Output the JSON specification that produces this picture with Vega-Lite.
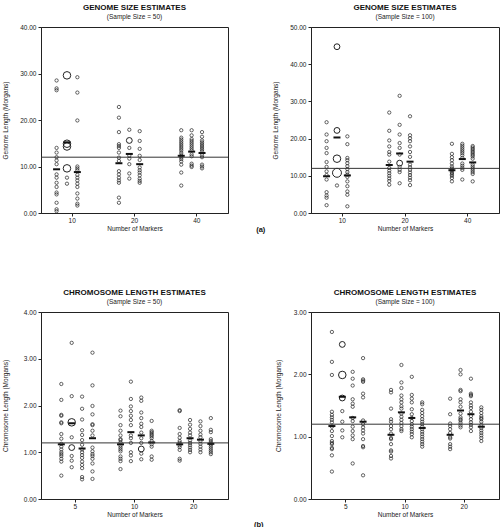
{
"$schema": "https://vega.github.io/schema/vega-lite/v6.json",
"background": "white",
"padding": {"left": 1, "top": 3, "right": 0, "bottom": 0},
"datasets": {
"g50": [
{"mk":10,"meth":1,"length":28.5},{"mk":10,"meth":1,"length":26.8},{"mk":10,"meth":1,"length":26.4},{"mk":10,"meth":1,"length":14.0},{"mk":10,"meth":1,"length":13.0},{"mk":10,"meth":1,"length":12.0},{"mk":10,"meth":1,"length":11.3},{"mk":10,"meth":1,"length":10.5},{"mk":10,"meth":1,"length":8.3},{"mk":10,"meth":1,"length":7.6},{"mk":10,"meth":1,"length":6.5},{"mk":10,"meth":1,"length":5.6},{"mk":10,"meth":1,"length":4.4},{"mk":10,"meth":1,"length":4.0},{"mk":10,"meth":1,"length":2.2},{"mk":10,"meth":1,"length":0.8},{"mk":10,"meth":1,"length":0.4},
{"mk":10,"meth":2,"length":7.6},{"mk":10,"meth":2,"length":6.3},
{"mk":10,"meth":3,"length":29.2},{"mk":10,"meth":3,"length":25.9},{"mk":10,"meth":3,"length":19.9},{"mk":10,"meth":3,"length":10.0},{"mk":10,"meth":3,"length":9.6},{"mk":10,"meth":3,"length":9.2},{"mk":10,"meth":3,"length":8.2},{"mk":10,"meth":3,"length":7.6},{"mk":10,"meth":3,"length":7.0},{"mk":10,"meth":3,"length":6.3},{"mk":10,"meth":3,"length":5.6},{"mk":10,"meth":3,"length":4.2},{"mk":10,"meth":3,"length":3.1},{"mk":10,"meth":3,"length":2.0},{"mk":10,"meth":3,"length":1.6},
{"mk":20,"meth":1,"length":22.8},{"mk":20,"meth":1,"length":20.5},{"mk":20,"meth":1,"length":17.4},{"mk":20,"meth":1,"length":14.8},{"mk":20,"meth":1,"length":14.4},{"mk":20,"meth":1,"length":14.0},{"mk":20,"meth":1,"length":13.0},{"mk":20,"meth":1,"length":11.9},{"mk":20,"meth":1,"length":11.2},{"mk":20,"meth":1,"length":9.0},{"mk":20,"meth":1,"length":8.3},{"mk":20,"meth":1,"length":7.6},{"mk":20,"meth":1,"length":7.0},{"mk":20,"meth":1,"length":6.5},{"mk":20,"meth":1,"length":3.3},{"mk":20,"meth":1,"length":2.2},
{"mk":20,"meth":2,"length":17.9},{"mk":20,"meth":2,"length":14.0},{"mk":20,"meth":2,"length":12.3},{"mk":20,"meth":2,"length":11.7},{"mk":20,"meth":2,"length":10.5},{"mk":20,"meth":2,"length":8.5},{"mk":20,"meth":2,"length":7.4},
{"mk":20,"meth":3,"length":17.6},{"mk":20,"meth":3,"length":15.5},{"mk":20,"meth":3,"length":13.8},{"mk":20,"meth":3,"length":12.3},{"mk":20,"meth":3,"length":11.4},{"mk":20,"meth":3,"length":9.8},{"mk":20,"meth":3,"length":9.2},{"mk":20,"meth":3,"length":8.7},{"mk":20,"meth":3,"length":8.1},{"mk":20,"meth":3,"length":7.4},{"mk":20,"meth":3,"length":6.9},{"mk":20,"meth":3,"length":6.5},
{"mk":40,"meth":1,"length":17.8},{"mk":40,"meth":1,"length":16.2},{"mk":40,"meth":1,"length":15.8},{"mk":40,"meth":1,"length":15.4},{"mk":40,"meth":1,"length":15.0},{"mk":40,"meth":1,"length":14.6},{"mk":40,"meth":1,"length":14.2},{"mk":40,"meth":1,"length":13.8},{"mk":40,"meth":1,"length":13.4},{"mk":40,"meth":1,"length":12.9},{"mk":40,"meth":1,"length":12.4},{"mk":40,"meth":1,"length":12.0},{"mk":40,"meth":1,"length":11.6},{"mk":40,"meth":1,"length":11.1},{"mk":40,"meth":1,"length":10.4},{"mk":40,"meth":1,"length":8.7},{"mk":40,"meth":1,"length":5.9},
{"mk":40,"meth":2,"length":17.8},{"mk":40,"meth":2,"length":16.7},{"mk":40,"meth":2,"length":15.9},{"mk":40,"meth":2,"length":15.5},{"mk":40,"meth":2,"length":15.1},{"mk":40,"meth":2,"length":14.7},{"mk":40,"meth":2,"length":14.3},{"mk":40,"meth":2,"length":13.9},{"mk":40,"meth":2,"length":13.5},{"mk":40,"meth":2,"length":12.6},{"mk":40,"meth":2,"length":12.2},{"mk":40,"meth":2,"length":10.6},{"mk":40,"meth":2,"length":10.2},{"mk":40,"meth":2,"length":9.9},
{"mk":40,"meth":3,"length":17.4},{"mk":40,"meth":3,"length":16.4},{"mk":40,"meth":3,"length":15.6},{"mk":40,"meth":3,"length":15.2},{"mk":40,"meth":3,"length":14.8},{"mk":40,"meth":3,"length":14.4},{"mk":40,"meth":3,"length":14.0},{"mk":40,"meth":3,"length":13.6},{"mk":40,"meth":3,"length":13.2},{"mk":40,"meth":3,"length":12.4},{"mk":40,"meth":3,"length":12.0},{"mk":40,"meth":3,"length":10.4},{"mk":40,"meth":3,"length":10.0},{"mk":40,"meth":3,"length":9.6}
],
"g50big": [
{"mk":10,"meth":2,"length":29.6,"n":3},{"mk":10,"meth":2,"length":14.9,"n":3},{"mk":10,"meth":2,"length":14.3,"n":3},{"mk":10,"meth":2,"length":9.6,"n":3},{"mk":20,"meth":2,"length":15.6,"n":2}
],
"g50mean": [
{"mk":10,"meth":1,"length":9.4},{"mk":10,"meth":2,"length":15.2},{"mk":10,"meth":3,"length":8.8},
{"mk":20,"meth":1,"length":10.7},{"mk":20,"meth":2,"length":12.7},{"mk":20,"meth":3,"length":10.5},
{"mk":40,"meth":1,"length":12.3},{"mk":40,"meth":2,"length":13.2},{"mk":40,"meth":3,"length":12.9}
],
"g100": [
{"mk":10,"meth":1,"length":24.4},{"mk":10,"meth":1,"length":21.1},{"mk":10,"meth":1,"length":19.3},{"mk":10,"meth":1,"length":17.5},{"mk":10,"meth":1,"length":16.1},{"mk":10,"meth":1,"length":13.7},{"mk":10,"meth":1,"length":12.4},{"mk":10,"meth":1,"length":11.2},{"mk":10,"meth":1,"length":10.2},{"mk":10,"meth":1,"length":9.0},{"mk":10,"meth":1,"length":5.6},{"mk":10,"meth":1,"length":4.7},{"mk":10,"meth":1,"length":4.1},{"mk":10,"meth":1,"length":2.1},
{"mk":10,"meth":2,"length":7.4},
{"mk":10,"meth":3,"length":20.6},{"mk":10,"meth":3,"length":18.5},{"mk":10,"meth":3,"length":14.8},{"mk":10,"meth":3,"length":14.2},{"mk":10,"meth":3,"length":13.4},{"mk":10,"meth":3,"length":12.6},{"mk":10,"meth":3,"length":11.8},{"mk":10,"meth":3,"length":11.0},{"mk":10,"meth":3,"length":10.3},{"mk":10,"meth":3,"length":9.7},{"mk":10,"meth":3,"length":8.5},{"mk":10,"meth":3,"length":7.2},{"mk":10,"meth":3,"length":5.8},{"mk":10,"meth":3,"length":4.9},{"mk":10,"meth":3,"length":1.8},
{"mk":20,"meth":1,"length":27.0},{"mk":20,"meth":1,"length":22.1},{"mk":20,"meth":1,"length":19.5},{"mk":20,"meth":1,"length":17.9},{"mk":20,"meth":1,"length":16.4},{"mk":20,"meth":1,"length":15.7},{"mk":20,"meth":1,"length":13.8},{"mk":20,"meth":1,"length":12.1},{"mk":20,"meth":1,"length":11.4},{"mk":20,"meth":1,"length":10.7},{"mk":20,"meth":1,"length":10.0},{"mk":20,"meth":1,"length":9.3},{"mk":20,"meth":1,"length":8.6},{"mk":20,"meth":1,"length":7.6},
{"mk":20,"meth":2,"length":31.5},{"mk":20,"meth":2,"length":23.7},{"mk":20,"meth":2,"length":21.1},{"mk":20,"meth":2,"length":18.8},{"mk":20,"meth":2,"length":17.5},{"mk":20,"meth":2,"length":15.7},{"mk":20,"meth":2,"length":12.4},{"mk":20,"meth":2,"length":11.6},{"mk":20,"meth":2,"length":11.0},{"mk":20,"meth":2,"length":8.0},
{"mk":20,"meth":3,"length":26.0},{"mk":20,"meth":3,"length":20.9},{"mk":20,"meth":3,"length":20.1},{"mk":20,"meth":3,"length":19.3},{"mk":20,"meth":3,"length":17.9},{"mk":20,"meth":3,"length":16.4},{"mk":20,"meth":3,"length":15.1},{"mk":20,"meth":3,"length":13.0},{"mk":20,"meth":3,"length":12.3},{"mk":20,"meth":3,"length":11.6},{"mk":20,"meth":3,"length":10.9},{"mk":20,"meth":3,"length":10.2},{"mk":20,"meth":3,"length":9.5},{"mk":20,"meth":3,"length":8.8},{"mk":20,"meth":3,"length":7.5},
{"mk":40,"meth":1,"length":18.6},{"mk":40,"meth":1,"length":15.9},{"mk":40,"meth":1,"length":15.0},{"mk":40,"meth":1,"length":14.2},{"mk":40,"meth":1,"length":13.3},{"mk":40,"meth":1,"length":12.5},{"mk":40,"meth":1,"length":12.0},{"mk":40,"meth":1,"length":11.6},{"mk":40,"meth":1,"length":11.2},{"mk":40,"meth":1,"length":10.8},{"mk":40,"meth":1,"length":10.4},{"mk":40,"meth":1,"length":10.0},{"mk":40,"meth":1,"length":9.4},{"mk":40,"meth":1,"length":8.5},
{"mk":40,"meth":2,"length":18.6},{"mk":40,"meth":2,"length":18.1},{"mk":40,"meth":2,"length":17.6},{"mk":40,"meth":2,"length":17.1},{"mk":40,"meth":2,"length":16.6},{"mk":40,"meth":2,"length":16.1},{"mk":40,"meth":2,"length":15.5},{"mk":40,"meth":2,"length":14.8},{"mk":40,"meth":2,"length":13.3},{"mk":40,"meth":2,"length":12.7},{"mk":40,"meth":2,"length":12.1},{"mk":40,"meth":2,"length":11.6},{"mk":40,"meth":2,"length":9.0},
{"mk":40,"meth":3,"length":18.0},{"mk":40,"meth":3,"length":17.6},{"mk":40,"meth":3,"length":17.2},{"mk":40,"meth":3,"length":16.8},{"mk":40,"meth":3,"length":16.4},{"mk":40,"meth":3,"length":16.0},{"mk":40,"meth":3,"length":15.6},{"mk":40,"meth":3,"length":15.2},{"mk":40,"meth":3,"length":14.6},{"mk":40,"meth":3,"length":13.0},{"mk":40,"meth":3,"length":12.5},{"mk":40,"meth":3,"length":12.0},{"mk":40,"meth":3,"length":11.5},{"mk":40,"meth":3,"length":11.0},{"mk":40,"meth":3,"length":10.5},{"mk":40,"meth":3,"length":8.5}
],
"g100big": [
{"mk":10,"meth":2,"length":44.7,"n":2},{"mk":10,"meth":2,"length":22.2,"n":2},{"mk":10,"meth":2,"length":14.6,"n":3},{"mk":10,"meth":2,"length":10.8,"n":4},{"mk":20,"meth":2,"length":13.4,"n":2}
],
"g100mean": [
{"mk":10,"meth":1,"length":9.9},{"mk":10,"meth":2,"length":20.3},{"mk":10,"meth":3,"length":10.1},
{"mk":20,"meth":1,"length":12.9},{"mk":20,"meth":2,"length":16.0},{"mk":20,"meth":3,"length":13.8},
{"mk":40,"meth":1,"length":11.5},{"mk":40,"meth":2,"length":14.5},{"mk":40,"meth":3,"length":13.6}
],
"c50": [
{"mk":5,"meth":1,"length":2.46},{"mk":5,"meth":1,"length":2.12},{"mk":5,"meth":1,"length":1.80},{"mk":5,"meth":1,"length":1.78},{"mk":5,"meth":1,"length":1.64},{"mk":5,"meth":1,"length":1.62},{"mk":5,"meth":1,"length":1.39},{"mk":5,"meth":1,"length":1.29},{"mk":5,"meth":1,"length":1.18},{"mk":5,"meth":1,"length":1.12},{"mk":5,"meth":1,"length":1.06},{"mk":5,"meth":1,"length":1.00},{"mk":5,"meth":1,"length":0.96},{"mk":5,"meth":1,"length":0.92},{"mk":5,"meth":1,"length":0.86},{"mk":5,"meth":1,"length":0.80},{"mk":5,"meth":1,"length":0.50},
{"mk":5,"meth":2,"length":3.34},{"mk":5,"meth":2,"length":2.20},{"mk":5,"meth":2,"length":1.32},{"mk":5,"meth":2,"length":0.92},{"mk":5,"meth":2,"length":0.82},{"mk":5,"meth":2,"length":0.68},
{"mk":5,"meth":3,"length":2.19},{"mk":5,"meth":3,"length":1.93},{"mk":5,"meth":3,"length":1.70},{"mk":5,"meth":3,"length":1.47},{"mk":5,"meth":3,"length":1.37},{"mk":5,"meth":3,"length":1.26},{"mk":5,"meth":3,"length":1.16},{"mk":5,"meth":3,"length":1.06},{"mk":5,"meth":3,"length":1.00},{"mk":5,"meth":3,"length":0.94},{"mk":5,"meth":3,"length":0.88},{"mk":5,"meth":3,"length":0.80},{"mk":5,"meth":3,"length":0.73},{"mk":5,"meth":3,"length":0.66},{"mk":5,"meth":3,"length":0.47},{"mk":5,"meth":3,"length":0.42},
{"mk":5,"meth":4,"length":3.13},{"mk":5,"meth":4,"length":2.43},{"mk":5,"meth":4,"length":1.99},{"mk":5,"meth":4,"length":1.81},{"mk":5,"meth":4,"length":1.60},{"mk":5,"meth":4,"length":1.58},{"mk":5,"meth":4,"length":1.46},{"mk":5,"meth":4,"length":1.36},{"mk":5,"meth":4,"length":1.10},{"mk":5,"meth":4,"length":1.02},{"mk":5,"meth":4,"length":0.96},{"mk":5,"meth":4,"length":0.92},{"mk":5,"meth":4,"length":0.86},{"mk":5,"meth":4,"length":0.76},{"mk":5,"meth":4,"length":0.59},{"mk":5,"meth":4,"length":0.43},
{"mk":10,"meth":1,"length":1.89},{"mk":10,"meth":1,"length":1.77},{"mk":10,"meth":1,"length":1.58},{"mk":10,"meth":1,"length":1.46},{"mk":10,"meth":1,"length":1.36},{"mk":10,"meth":1,"length":1.28},{"mk":10,"meth":1,"length":1.26},{"mk":10,"meth":1,"length":1.21},{"mk":10,"meth":1,"length":1.14},{"mk":10,"meth":1,"length":1.10},{"mk":10,"meth":1,"length":1.06},{"mk":10,"meth":1,"length":1.02},{"mk":10,"meth":1,"length":0.91},{"mk":10,"meth":1,"length":0.86},{"mk":10,"meth":1,"length":0.81},{"mk":10,"meth":1,"length":0.64},
{"mk":10,"meth":2,"length":2.51},{"mk":10,"meth":2,"length":2.14},{"mk":10,"meth":2,"length":1.98},{"mk":10,"meth":2,"length":1.88},{"mk":10,"meth":2,"length":1.78},{"mk":10,"meth":2,"length":1.69},{"mk":10,"meth":2,"length":1.58},{"mk":10,"meth":2,"length":1.36},{"mk":10,"meth":2,"length":1.30},{"mk":10,"meth":2,"length":1.20},{"mk":10,"meth":2,"length":1.00},{"mk":10,"meth":2,"length":0.93},{"mk":10,"meth":2,"length":0.81},
{"mk":10,"meth":3,"length":2.17},{"mk":10,"meth":3,"length":2.10},{"mk":10,"meth":3,"length":1.85},{"mk":10,"meth":3,"length":1.73},{"mk":10,"meth":3,"length":1.61},{"mk":10,"meth":3,"length":1.54},{"mk":10,"meth":3,"length":1.42},{"mk":10,"meth":3,"length":1.30},{"mk":10,"meth":3,"length":1.20},{"mk":10,"meth":3,"length":0.97},{"mk":10,"meth":3,"length":0.85},
{"mk":10,"meth":4,"length":1.67},{"mk":10,"meth":4,"length":1.46},{"mk":10,"meth":4,"length":1.43},{"mk":10,"meth":4,"length":1.40},{"mk":10,"meth":4,"length":1.37},{"mk":10,"meth":4,"length":1.34},{"mk":10,"meth":4,"length":1.30},{"mk":10,"meth":4,"length":1.24},{"mk":10,"meth":4,"length":1.17},{"mk":10,"meth":4,"length":1.12},{"mk":10,"meth":4,"length":0.91},{"mk":10,"meth":4,"length":0.84},
{"mk":20,"meth":1,"length":1.90},{"mk":20,"meth":1,"length":1.88},{"mk":20,"meth":1,"length":1.52},{"mk":20,"meth":1,"length":1.39},{"mk":20,"meth":1,"length":1.31},{"mk":20,"meth":1,"length":1.24},{"mk":20,"meth":1,"length":1.20},{"mk":20,"meth":1,"length":1.15},{"mk":20,"meth":1,"length":1.11},{"mk":20,"meth":1,"length":1.05},{"mk":20,"meth":1,"length":0.86},{"mk":20,"meth":1,"length":0.82},
{"mk":20,"meth":2,"length":1.69},{"mk":20,"meth":2,"length":1.59},{"mk":20,"meth":2,"length":1.50},{"mk":20,"meth":2,"length":1.42},{"mk":20,"meth":2,"length":1.36},{"mk":20,"meth":2,"length":1.25},{"mk":20,"meth":2,"length":1.20},{"mk":20,"meth":2,"length":1.15},{"mk":20,"meth":2,"length":1.10},{"mk":20,"meth":2,"length":1.05},{"mk":20,"meth":2,"length":1.00},
{"mk":20,"meth":3,"length":1.66},{"mk":20,"meth":3,"length":1.56},{"mk":20,"meth":3,"length":1.46},{"mk":20,"meth":3,"length":1.38},{"mk":20,"meth":3,"length":1.32},{"mk":20,"meth":3,"length":1.24},{"mk":20,"meth":3,"length":1.18},{"mk":20,"meth":3,"length":1.12},{"mk":20,"meth":3,"length":1.06},{"mk":20,"meth":3,"length":1.00},
{"mk":20,"meth":4,"length":1.73},{"mk":20,"meth":4,"length":1.48},{"mk":20,"meth":4,"length":1.43},{"mk":20,"meth":4,"length":1.28},{"mk":20,"meth":4,"length":1.24},{"mk":20,"meth":4,"length":1.20},{"mk":20,"meth":4,"length":1.16},{"mk":20,"meth":4,"length":1.12},{"mk":20,"meth":4,"length":1.08},{"mk":20,"meth":4,"length":1.04},{"mk":20,"meth":4,"length":1.00},{"mk":20,"meth":4,"length":0.96}
],
"c50big": [
{"mk":5,"meth":2,"length":1.64,"n":3},{"mk":5,"meth":2,"length":1.10,"n":2},{"mk":10,"meth":3,"length":1.07,"n":2}
],
"c50mean": [
{"mk":5,"meth":1,"length":1.17},{"mk":5,"meth":2,"length":1.62},{"mk":5,"meth":3,"length":1.08},{"mk":5,"meth":4,"length":1.30},
{"mk":10,"meth":1,"length":1.17},{"mk":10,"meth":2,"length":1.43},{"mk":10,"meth":3,"length":1.36},{"mk":10,"meth":4,"length":1.21},
{"mk":20,"meth":1,"length":1.17},{"mk":20,"meth":2,"length":1.30},{"mk":20,"meth":3,"length":1.27},{"mk":20,"meth":4,"length":1.18}
],
"c100": [
{"mk":5,"meth":1,"length":2.68},{"mk":5,"meth":1,"length":2.20},{"mk":5,"meth":1,"length":1.99},{"mk":5,"meth":1,"length":1.40},{"mk":5,"meth":1,"length":1.35},{"mk":5,"meth":1,"length":1.31},{"mk":5,"meth":1,"length":1.27},{"mk":5,"meth":1,"length":1.23},{"mk":5,"meth":1,"length":1.16},{"mk":5,"meth":1,"length":1.09},{"mk":5,"meth":1,"length":1.01},{"mk":5,"meth":1,"length":0.93},{"mk":5,"meth":1,"length":0.90},{"mk":5,"meth":1,"length":0.88},{"mk":5,"meth":1,"length":0.82},{"mk":5,"meth":1,"length":0.80},{"mk":5,"meth":1,"length":0.70},{"mk":5,"meth":1,"length":0.44},
{"mk":5,"meth":2,"length":1.41},{"mk":5,"meth":2,"length":1.24},{"mk":5,"meth":2,"length":1.10},{"mk":5,"meth":2,"length":0.99},
{"mk":5,"meth":3,"length":2.04},{"mk":5,"meth":3,"length":1.93},{"mk":5,"meth":3,"length":1.82},{"mk":5,"meth":3,"length":1.60},{"mk":5,"meth":3,"length":1.53},{"mk":5,"meth":3,"length":1.48},{"mk":5,"meth":3,"length":1.30},{"mk":5,"meth":3,"length":1.25},{"mk":5,"meth":3,"length":1.16},{"mk":5,"meth":3,"length":1.09},{"mk":5,"meth":3,"length":1.02},{"mk":5,"meth":3,"length":0.96},{"mk":5,"meth":3,"length":0.57},
{"mk":5,"meth":4,"length":2.26},{"mk":5,"meth":4,"length":1.92},{"mk":5,"meth":4,"length":1.90},{"mk":5,"meth":4,"length":1.88},{"mk":5,"meth":4,"length":1.69},{"mk":5,"meth":4,"length":1.63},{"mk":5,"meth":4,"length":1.26},{"mk":5,"meth":4,"length":1.20},{"mk":5,"meth":4,"length":1.15},{"mk":5,"meth":4,"length":1.10},{"mk":5,"meth":4,"length":1.05},{"mk":5,"meth":4,"length":0.96},{"mk":5,"meth":4,"length":0.85},{"mk":5,"meth":4,"length":0.83},{"mk":5,"meth":4,"length":0.38},
{"mk":10,"meth":1,"length":1.75},{"mk":10,"meth":1,"length":1.71},{"mk":10,"meth":1,"length":1.45},{"mk":10,"meth":1,"length":1.28},{"mk":10,"meth":1,"length":1.24},{"mk":10,"meth":1,"length":1.17},{"mk":10,"meth":1,"length":1.12},{"mk":10,"meth":1,"length":1.05},{"mk":10,"meth":1,"length":0.98},{"mk":10,"meth":1,"length":0.96},{"mk":10,"meth":1,"length":0.88},{"mk":10,"meth":1,"length":0.78},{"mk":10,"meth":1,"length":0.76},{"mk":10,"meth":1,"length":0.69},{"mk":10,"meth":1,"length":0.65},
{"mk":10,"meth":2,"length":2.15},{"mk":10,"meth":2,"length":1.87},{"mk":10,"meth":2,"length":1.78},{"mk":10,"meth":2,"length":1.66},{"mk":10,"meth":2,"length":1.60},{"mk":10,"meth":2,"length":1.55},{"mk":10,"meth":2,"length":1.49},{"mk":10,"meth":2,"length":1.45},{"mk":10,"meth":2,"length":1.37},{"mk":10,"meth":2,"length":1.32},{"mk":10,"meth":2,"length":1.27},{"mk":10,"meth":2,"length":1.22},{"mk":10,"meth":2,"length":1.17},{"mk":10,"meth":2,"length":1.12},{"mk":10,"meth":2,"length":1.09},
{"mk":10,"meth":3,"length":1.96},{"mk":10,"meth":3,"length":1.67},{"mk":10,"meth":3,"length":1.61},{"mk":10,"meth":3,"length":1.55},{"mk":10,"meth":3,"length":1.44},{"mk":10,"meth":3,"length":1.36},{"mk":10,"meth":3,"length":1.30},{"mk":10,"meth":3,"length":1.25},{"mk":10,"meth":3,"length":1.20},{"mk":10,"meth":3,"length":1.16},{"mk":10,"meth":3,"length":1.12},{"mk":10,"meth":3,"length":1.08},{"mk":10,"meth":3,"length":1.04},{"mk":10,"meth":3,"length":0.99},
{"mk":10,"meth":4,"length":1.55},{"mk":10,"meth":4,"length":1.52},{"mk":10,"meth":4,"length":1.43},{"mk":10,"meth":4,"length":1.38},{"mk":10,"meth":4,"length":1.33},{"mk":10,"meth":4,"length":1.28},{"mk":10,"meth":4,"length":1.24},{"mk":10,"meth":4,"length":1.20},{"mk":10,"meth":4,"length":1.16},{"mk":10,"meth":4,"length":1.12},{"mk":10,"meth":4,"length":1.08},{"mk":10,"meth":4,"length":1.04},{"mk":10,"meth":4,"length":1.00},{"mk":10,"meth":4,"length":0.96},{"mk":10,"meth":4,"length":0.92},{"mk":10,"meth":4,"length":0.88},{"mk":10,"meth":4,"length":0.84},
{"mk":20,"meth":1,"length":1.61},{"mk":20,"meth":1,"length":1.36},{"mk":20,"meth":1,"length":1.21},{"mk":20,"meth":1,"length":1.17},{"mk":20,"meth":1,"length":1.12},{"mk":20,"meth":1,"length":1.06},{"mk":20,"meth":1,"length":0.99},{"mk":20,"meth":1,"length":0.97},{"mk":20,"meth":1,"length":0.88},{"mk":20,"meth":1,"length":0.84},{"mk":20,"meth":1,"length":0.80},
{"mk":20,"meth":2,"length":2.07},{"mk":20,"meth":2,"length":2.00},{"mk":20,"meth":2,"length":1.75},{"mk":20,"meth":2,"length":1.73},{"mk":20,"meth":2,"length":1.60},{"mk":20,"meth":2,"length":1.55},{"mk":20,"meth":2,"length":1.48},{"mk":20,"meth":2,"length":1.37},{"mk":20,"meth":2,"length":1.31},{"mk":20,"meth":2,"length":1.28},{"mk":20,"meth":2,"length":1.26},{"mk":20,"meth":2,"length":1.22},{"mk":20,"meth":2,"length":1.18},{"mk":20,"meth":2,"length":1.15},
{"mk":20,"meth":3,"length":1.93},{"mk":20,"meth":3,"length":1.69},{"mk":20,"meth":3,"length":1.67},{"mk":20,"meth":3,"length":1.65},{"mk":20,"meth":3,"length":1.55},{"mk":20,"meth":3,"length":1.50},{"mk":20,"meth":3,"length":1.46},{"mk":20,"meth":3,"length":1.40},{"mk":20,"meth":3,"length":1.33},{"mk":20,"meth":3,"length":1.28},{"mk":20,"meth":3,"length":1.23},{"mk":20,"meth":3,"length":1.19},{"mk":20,"meth":3,"length":1.15},{"mk":20,"meth":3,"length":1.09},
{"mk":20,"meth":4,"length":1.47},{"mk":20,"meth":4,"length":1.43},{"mk":20,"meth":4,"length":1.38},{"mk":20,"meth":4,"length":1.33},{"mk":20,"meth":4,"length":1.30},{"mk":20,"meth":4,"length":1.28},{"mk":20,"meth":4,"length":1.24},{"mk":20,"meth":4,"length":1.19},{"mk":20,"meth":4,"length":1.14},{"mk":20,"meth":4,"length":1.10},{"mk":20,"meth":4,"length":1.06},{"mk":20,"meth":4,"length":1.02},{"mk":20,"meth":4,"length":0.98},{"mk":20,"meth":4,"length":0.93}
],
"c100big": [
{"mk":5,"meth":2,"length":2.48,"n":2},{"mk":5,"meth":2,"length":1.99,"n":3},{"mk":5,"meth":2,"length":1.62,"n":2}
],
"c100mean": [
{"mk":5,"meth":1,"length":1.17},{"mk":5,"meth":2,"length":1.64},{"mk":5,"meth":3,"length":1.31},{"mk":5,"meth":4,"length":1.24},
{"mk":10,"meth":1,"length":1.03},{"mk":10,"meth":2,"length":1.39},{"mk":10,"meth":3,"length":1.30},{"mk":10,"meth":4,"length":1.14},
{"mk":20,"meth":1,"length":1.03},{"mk":20,"meth":2,"length":1.42},{"mk":20,"meth":3,"length":1.36},{"mk":20,"meth":4,"length":1.16}
]
},
"vconcat": [
{
"hconcat": [
{
"width": 187, "height": 186,
"title": {"text": "GENOME SIZE ESTIMATES", "subtitle": "(Sample Size = 50)"},
"encoding": {"y": {"field": "length", "type": "quantitative", "scale": {"domain": [0, 40], "nice": false}, "axis": {"title": "Genome Length (Morgans)", "values": [0, 10, 20, 30, 40], "format": ".2f"}}},
"layer": [
{"data": {"name": "g50"}, "mark": {"type": "point", "shape": "circle", "filled": false, "size": 11, "strokeWidth": 0.7, "color": "#222", "opacity": 1},
 "encoding": {"x": {"field": "mk", "type": "ordinal", "scale": {"paddingInner": 0, "paddingOuter": 0}, "axis": {"title": "Number of Markers", "labelAngle": 0}}, "xOffset": {"field": "meth", "type": "nominal", "scale": {"paddingInner": 0, "paddingOuter": 1.47}}}},
{"data": {"name": "g50big"}, "mark": {"type": "point", "shape": "circle", "filled": false, "strokeWidth": 1, "color": "#222", "opacity": 1},
 "encoding": {"x": {"field": "mk", "type": "ordinal"}, "xOffset": {"field": "meth", "type": "nominal"}, "size": {"field": "n", "type": "quantitative", "scale": {"domain": [1, 4], "range": [11, 80]}, "legend": null}}},
{"data": {"name": "g50mean"}, "mark": {"type": "tick", "thickness": 2, "size": 7, "color": "#111", "opacity": 1},
 "encoding": {"x": {"field": "mk", "type": "ordinal"}, "xOffset": {"field": "meth", "type": "nominal"}}},
{"data": {"values": [{"length": 12}]}, "mark": {"type": "rule", "color": "#333", "strokeWidth": 1}, "encoding": {}}
]
},
{
"width": 188, "height": 186,
"title": {"text": "GENOME SIZE ESTIMATES", "subtitle": "(Sample Size = 100)"},
"encoding": {"y": {"field": "length", "type": "quantitative", "scale": {"domain": [0, 50], "nice": false}, "axis": {"title": "Genome Length (Morgans)", "values": [0, 10, 20, 30, 40, 50], "format": ".2f"}}},
"layer": [
{"data": {"name": "g100"}, "mark": {"type": "point", "shape": "circle", "filled": false, "size": 11, "strokeWidth": 0.7, "color": "#222", "opacity": 1},
 "encoding": {"x": {"field": "mk", "type": "ordinal", "scale": {"paddingInner": 0, "paddingOuter": 0}, "axis": {"title": "Number of Markers", "labelAngle": 0}}, "xOffset": {"field": "meth", "type": "nominal", "scale": {"paddingInner": 0, "paddingOuter": 1.47}}}},
{"data": {"name": "g100big"}, "mark": {"type": "point", "shape": "circle", "filled": false, "strokeWidth": 1, "color": "#222", "opacity": 1},
 "encoding": {"x": {"field": "mk", "type": "ordinal"}, "xOffset": {"field": "meth", "type": "nominal"}, "size": {"field": "n", "type": "quantitative", "scale": {"domain": [1, 4], "range": [11, 80]}, "legend": null}}},
{"data": {"name": "g100mean"}, "mark": {"type": "tick", "thickness": 2, "size": 7, "color": "#111", "opacity": 1},
 "encoding": {"x": {"field": "mk", "type": "ordinal"}, "xOffset": {"field": "meth", "type": "nominal"}}},
{"data": {"values": [{"length": 12}]}, "mark": {"type": "rule", "color": "#333", "strokeWidth": 1}, "encoding": {}}
]
}
],
"spacing": 42,
"title": {"text": "(a)", "orient": "bottom", "anchor": "middle", "offset": -7, "dx": 10, "fontSize": 7.5, "fontWeight": "bold"}
},
{
"hconcat": [
{
"width": 187, "height": 187,
"title": {"text": "CHROMOSOME LENGTH ESTIMATES", "subtitle": "(Sample Size = 50)"},
"encoding": {"y": {"field": "length", "type": "quantitative", "scale": {"domain": [0, 4], "nice": false}, "axis": {"title": "Chromosome Length (Morgans)", "values": [0, 1, 2, 3, 4], "format": ".2f"}}},
"layer": [
{"data": {"name": "c50"}, "mark": {"type": "point", "shape": "circle", "filled": false, "size": 11, "strokeWidth": 0.7, "color": "#222", "opacity": 1},
 "encoding": {"x": {"field": "mk", "type": "ordinal", "scale": {"paddingInner": 0, "paddingOuter": 0.08}, "axis": {"title": "Number of Markers", "labelAngle": 0}}, "xOffset": {"field": "meth", "type": "nominal", "scale": {"paddingInner": 0, "paddingOuter": 0.95}}}},
{"data": {"name": "c50big"}, "mark": {"type": "point", "shape": "circle", "filled": false, "strokeWidth": 1, "color": "#222", "opacity": 1},
 "encoding": {"x": {"field": "mk", "type": "ordinal"}, "xOffset": {"field": "meth", "type": "nominal"}, "size": {"field": "n", "type": "quantitative", "scale": {"domain": [1, 4], "range": [11, 80]}, "legend": null}}},
{"data": {"name": "c50mean"}, "mark": {"type": "tick", "thickness": 2, "size": 7, "color": "#111", "opacity": 1},
 "encoding": {"x": {"field": "mk", "type": "ordinal"}, "xOffset": {"field": "meth", "type": "nominal"}}},
{"data": {"values": [{"length": 1.2}]}, "mark": {"type": "rule", "color": "#333", "strokeWidth": 1}, "encoding": {}}
]
},
{
"width": 188, "height": 187,
"title": {"text": "CHROMOSOME LENGTH ESTIMATES", "subtitle": "(Sample Size = 100)"},
"encoding": {"y": {"field": "length", "type": "quantitative", "scale": {"domain": [0, 3], "nice": false}, "axis": {"title": "Chromosome Length (Morgans)", "values": [0, 1, 2, 3], "format": ".2f", "titlePadding": 7.5}}},
"layer": [
{"data": {"name": "c100"}, "mark": {"type": "point", "shape": "circle", "filled": false, "size": 11, "strokeWidth": 0.7, "color": "#222", "opacity": 1},
 "encoding": {"x": {"field": "mk", "type": "ordinal", "scale": {"paddingInner": 0, "paddingOuter": 0.09}, "axis": {"title": "Number of Markers", "labelAngle": 0}}, "xOffset": {"field": "meth", "type": "nominal", "scale": {"paddingInner": 0, "paddingOuter": 0.95}}}},
{"data": {"name": "c100big"}, "mark": {"type": "point", "shape": "circle", "filled": false, "strokeWidth": 1, "color": "#222", "opacity": 1},
 "encoding": {"x": {"field": "mk", "type": "ordinal"}, "xOffset": {"field": "meth", "type": "nominal"}, "size": {"field": "n", "type": "quantitative", "scale": {"domain": [1, 4], "range": [11, 80]}, "legend": null}}},
{"data": {"name": "c100mean"}, "mark": {"type": "tick", "thickness": 2, "size": 7, "color": "#111", "opacity": 1},
 "encoding": {"x": {"field": "mk", "type": "ordinal"}, "xOffset": {"field": "meth", "type": "nominal"}}},
{"data": {"values": [{"length": 1.2}]}, "mark": {"type": "rule", "color": "#333", "strokeWidth": 1}, "encoding": {}}
]
}
],
"spacing": 46,
"title": {"text": "(b)", "orient": "bottom", "anchor": "middle", "offset": 2, "dx": 8, "fontSize": 7.5, "fontWeight": "bold"}
}
],
"spacing": 55,
"config": {
"font": "Liberation Sans",
"view": {"stroke": "#222", "strokeWidth": 1},
"axis": {"labelFontSize": 6.5, "titleFontSize": 6.5, "titleFontWeight": "normal", "labelColor": "#222", "titleColor": "#222", "tickColor": "#222", "domainColor": "#222", "grid": false, "tickSize": 3, "labelPadding": 2},
"axisY": {"minExtent": 22, "maxExtent": 22, "titlePadding": 11},
"axisX": {"titlePadding": 2, "labelPadding": 1},
"title": {"fontSize": 8, "fontWeight": "bold", "subtitleFontSize": 6.5, "subtitlePadding": 2, "color": "#111", "subtitleColor": "#222", "anchor": "middle", "offset": 4, "font": "Liberation Sans", "subtitleFont": "Liberation Sans"}
}
}
